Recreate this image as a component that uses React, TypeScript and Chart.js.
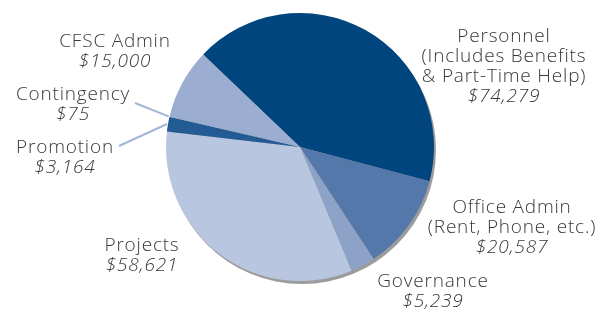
import React, { useEffect, useRef } from "react";
import { Chart, registerables } from "chart.js";

Chart.register(...registerables);

const categories = ["Personnel", "Office Admin", "Governance", "Projects", "Promotion", "Contingency", "CFSC Admin"];
const amounts = [74279, 20587, 5239, 58621, 3164, 75, 15000];
const labelNames: string[][] = [
  ["Personnel", "(Includes Benefits", "& Part-Time Help)"],
  ["Office Admin", "(Rent, Phone, etc.)"],
  ["Governance"],
  ["Projects"],
  ["Promotion"],
  ["Contingency"],
  ["CFSC Admin"],
];
const sliceColors = ["#00457E", "#5478A9", "#8DA2C7", "#B8C6DF", "#235B94", "#E6ECF5", "#9BAED1"];

// label layout: center x, first baseline y, align
const labelPos = [
  { x: 504, y: 42, align: "center" },
  { x: 512, y: 213, align: "center" },
  { x: 433, y: 287, align: "center" },
  { x: 142, y: 251, align: "center" },
  { x: 65, y: 153, align: "center" },
  { x: 73, y: 100, align: "center" },
  { x: 115, y: 47, align: "center" },
];
// leader line label-side start points (only for small slices)
const leaderStart: Record<number, { x: number; y: number }> = {
  4: { x: 119, y: 146 },
  5: { x: 135, y: 103 },
};

const fmt = (v: number) => "$" + v.toLocaleString("en-US");

const shadowPlugin = {
  id: "pieShadow",
  beforeDatasetsDraw(chart: any) {
    const arc = chart.getDatasetMeta(0).data[0];
    if (!arc) return;
    const { x, y, outerRadius } = arc.getProps(["x", "y", "outerRadius"], true);
    const ctx = chart.ctx;
    ctx.save();
    ctx.fillStyle = "#9C9C9C";
    ctx.beginPath();
    ctx.arc(x + 2, y + 3, outerRadius, 0, Math.PI * 2);
    ctx.fill();
    ctx.restore();
  },
};

const labelPlugin = {
  id: "pieLabels",
  afterDatasetsDraw(chart: any) {
    const ctx = chart.ctx;
    const meta = chart.getDatasetMeta(0);
    ctx.save();
    const lineH = 20;
    (ctx as any).letterSpacing = "0.8px";
    labelNames.forEach((lines, i) => {
      const p = labelPos[i];
      ctx.fillStyle = "#383838";
      ctx.textAlign = p.align;
      ctx.textBaseline = "alphabetic";
      ctx.font = "350 19px 'Open Sans'";
      lines.forEach((t, k) => ctx.fillText(t, p.x, p.y + k * lineH));
      ctx.font = "italic 350 19px 'Open Sans'";
      ctx.fillText(fmt(amounts[i]), p.x, p.y + lines.length * lineH);
      const s = leaderStart[i];
      if (s) {
        const arc = meta.data[i];
        const { x, y, startAngle, endAngle, outerRadius } = arc.getProps(
          ["x", "y", "startAngle", "endAngle", "outerRadius"],
          true
        );
        const mid = (startAngle + endAngle) / 2;
        const ex = x + Math.cos(mid) * (outerRadius + 1);
        const ey = y + Math.sin(mid) * (outerRadius + 1);
        ctx.strokeStyle = "#A3B5D6";
        ctx.lineWidth = 2;
        ctx.beginPath();
        ctx.moveTo(s.x, s.y);
        ctx.lineTo(ex, ey);
        ctx.stroke();
      }
    });
    ctx.restore();
  },
};

export default function App() {
  const ref = useRef<HTMLCanvasElement>(null);
  useEffect(() => {
    if (!ref.current) return;
    const chart = new Chart(ref.current, {
      type: "pie",
      data: {
        labels: categories,
        datasets: [
          {
            data: amounts,
            backgroundColor: sliceColors,
            borderWidth: 0,
          },
        ],
      },
      options: {
        responsive: false,
        animation: false,
        rotation: -46.3,
        layout: { padding: { left: 166, right: 164, top: 13, bottom: 31 } },
        plugins: {
          legend: { display: false },
          tooltip: { enabled: false },
        },
      },
      plugins: [shadowPlugin, labelPlugin],
    });
    return () => chart.destroy();
  }, []);
  return (
    <div style={{ position: "fixed", left: 0, top: 0, width: 598, height: 312, background: "#fff" }}>
      <canvas ref={ref} width={598} height={312} />
    </div>
  );
}
